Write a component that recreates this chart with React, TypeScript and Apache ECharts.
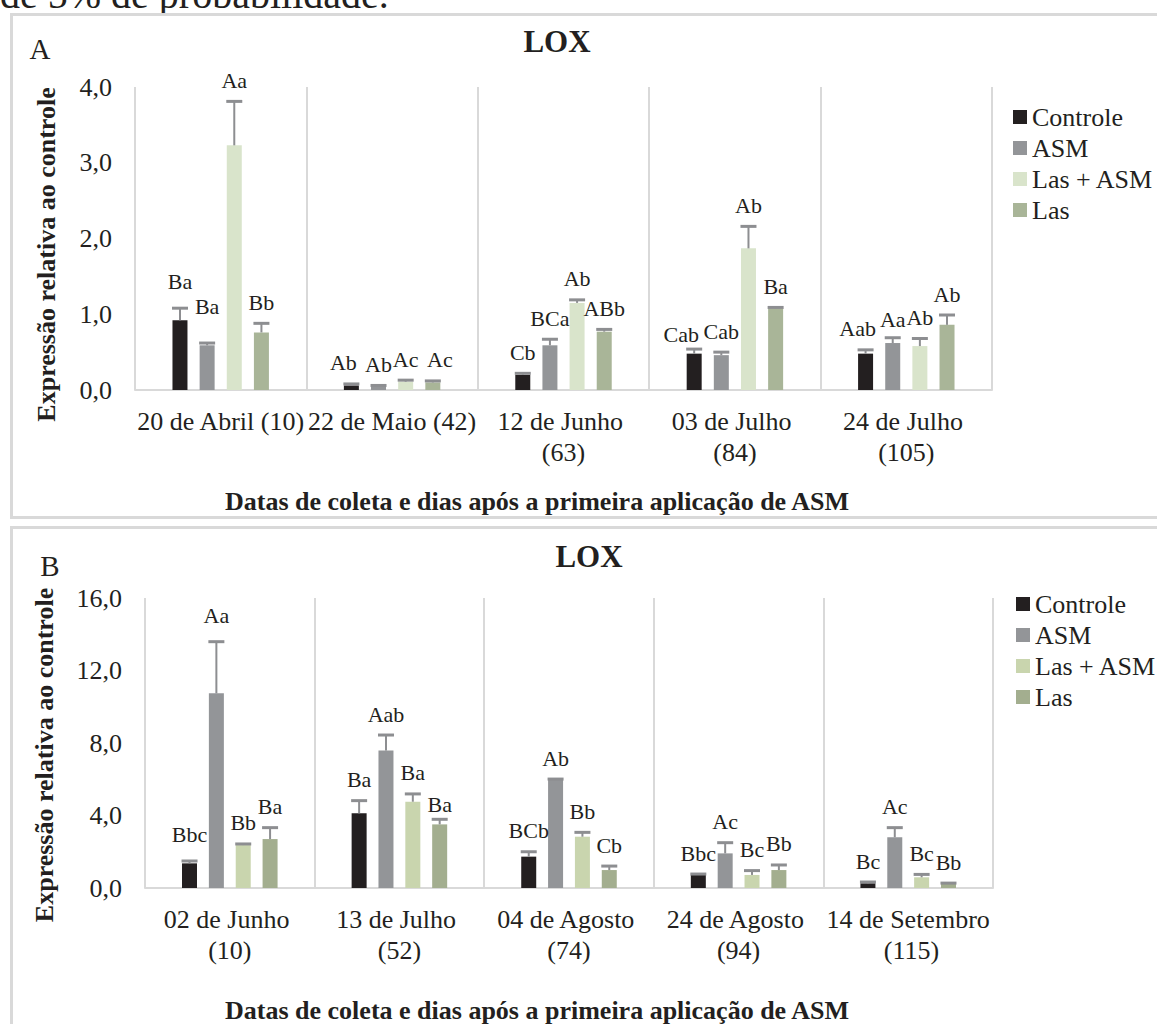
import React, { useEffect, useRef } from "react";
import * as echarts from "echarts";

// ---------- DATA ----------
const seriesNames = ["Controle", "ASM", "Las + ASM", "Las"];

const categoriesA = ["20 de Abril (10)", "22 de Maio (42)", "12 de Junho (63)", "03 de Julho (84)", "24 de Julho (105)"];
const categoriesB = ["02 de Junho (10)", "13 de Julho (52)", "04 de Agosto (74)", "24 de Agosto (94)", "14 de Setembro (115)"];

const yTicksA = [0, 1, 2, 3, 4];
const yTicksB = [0, 4, 8, 12, 16];

// Panel A values
const controleA = [0.92, 0.06, 0.2, 0.48, 0.48];
const asmA = [0.59, 0.05, 0.59, 0.46, 0.62];
const lasAsmA = [3.23, 0.11, 1.15, 1.87, 0.58];
const lasA = [0.76, 0.1, 0.77, 1.08, 0.86];
// Panel A errors
const controleErrA = [0.16, 0.02, 0.02, 0.06, 0.05];
const asmErrA = [0.03, 0.01, 0.08, 0.04, 0.07];
const lasAsmErrA = [0.58, 0.02, 0.04, 0.29, 0.1];
const lasErrA = [0.12, 0.02, 0.03, 0.01, 0.13];
// Panel A letters
const controleLabA = ["Ba", "Ab", "Cb", "Cab", "Aab"];
const asmLabA = ["Ba", "Ab", "BCa", "Cab", "Aa"];
const lasAsmLabA = ["Aa", "Ac", "Ab", "Ab", "Ab"];
const lasLabA = ["Bb", "Ac", "ABb", "Ba", "Ab"];

// Panel B values
const controleB = [1.36, 4.12, 1.73, 0.72, 0.26];
const asmB = [10.74, 7.58, 5.96, 1.91, 2.8];
const lasAsmB = [2.37, 4.76, 2.83, 0.72, 0.59];
const lasB = [2.7, 3.51, 0.99, 0.99, 0.22];
// Panel B errors
const controleErrB = [0.13, 0.7, 0.27, 0.05, 0.07];
const asmErrB = [2.85, 0.86, 0.05, 0.59, 0.53];
const lasAsmErrB = [0.06, 0.43, 0.24, 0.24, 0.16];
const lasErrB = [0.63, 0.28, 0.22, 0.28, 0.05];
// Panel B letters
const controleLabB = ["Bbc", "Ba", "BCb", "Bbc", "Bc"];
const asmLabB = ["Aa", "Aab", "Ab", "Ac", "Ac"];
const lasAsmLabB = ["Bb", "Ba", "Bb", "Bc", "Bc"];
const lasLabB = ["Ba", "Ba", "Cb", "Bb", "Bb"];

// ---------- STYLE ----------
const FONT = '"Liberation Serif", "Times New Roman", serif';
const TEXT = "#231f20";
const GRID_COL = "#d9d9d9";
const ERR_COL = "#8d8e91";
const colorsA = ["#231f20", "#939598", "#d9e4cb", "#a9b598"];
const colorsB = ["#231f20", "#939598", "#c9d5ae", "#a3ae8f"];
const BAR_W = 15;

// hand placement of a few letter labels (panel-series-category -> [dx, dy] px)
const labelNudge: Record<string, [number, number]> = {
  "0-0-0": [0, -6],
  "0-1-0": [0, -16],
  "0-0-1": [-8, 0],
  "0-3-1": [7, 0],
  "0-0-3": [-13, 6],
  "0-0-4": [-8, 0],
  "0-1-4": [0, 3],
  "1-0-0": [0, -5],
  "1-1-0": [0, -5],
  "1-3-1": [0, 6],
};

function fmtTick(v: number) {
  return v.toFixed(1).replace(".", ",");
}

function panelSeries(
  axisIdx: number,
  values: number[][],
  errs: number[][],
  labels: string[][],
  colors: string[],
  gapRatio: number
) {
  const out: any[] = [];
  const spacing = BAR_W * (1 + gapRatio);
  values.forEach((vals, k) => {
    out.push({
      type: "bar",
      name: seriesNames[k],
      xAxisIndex: axisIdx,
      yAxisIndex: axisIdx,
      data: vals,
      barWidth: BAR_W,
      barGap: Math.round(gapRatio * 100) + "%",
      itemStyle: { color: colors[k] },
      silent: true,
    });
  });
  values.forEach((vals, k) => {
    const err = errs[k];
    const labs = labels[k];
    out.push({
      type: "custom",
      name: seriesNames[k] + " err",
      xAxisIndex: axisIdx,
      yAxisIndex: axisIdx,
      coordinateSystem: "cartesian2d",
      encode: { x: 0, y: 1 },
      data: vals.map((v, i) => [i, v, err[i]]),
      z: 10,
      clip: false,
      silent: true,
      renderItem: (params: any, api: any) => {
        const cat = api.value(0);
        const v = api.value(1);
        const e = api.value(2);
        const p0 = api.coord([cat, v]);
        const p1 = api.coord([cat, v + e]);
        const x = p0[0] + (k - 1.5) * spacing;
        const nudge = labelNudge[`${axisIdx}-${k}-${params.dataIndex}`] || [0, 0];
        return {
          type: "group",
          children: [
            {
              type: "line",
              shape: { x1: x, y1: p0[1], x2: x, y2: p1[1] },
              style: { stroke: ERR_COL, lineWidth: 2 },
            },
            {
              type: "line",
              shape: { x1: x - 8, y1: p1[1], x2: x + 8, y2: p1[1] },
              style: { stroke: ERR_COL, lineWidth: 3 },
            },
            {
              type: "text",
              x: x + nudge[0],
              y: p1[1] - 21 + nudge[1],
              style: {
                text: labs[params.dataIndex],
                fontSize: 22,
                fontFamily: FONT,
                fill: TEXT,
                align: "center",
                verticalAlign: "middle",
              },
            },
          ],
        };
      },
    });
  });
  return out;
}

function xAxisCfg(idx: number, cats: string[], padRight: number, gap: number) {
  return {
    type: "category",
    gridIndex: idx,
    data: cats,
    name: "Datas de coleta e dias após a primeira aplicação de ASM",
    nameLocation: "middle",
    nameGap: gap,
    nameTextStyle: {
      fontFamily: FONT,
      fontSize: 26,
      fontWeight: "bold",
      color: TEXT,
      padding: [0, padRight, 0, 0],
    },
    axisLine: { show: true, lineStyle: { color: GRID_COL, width: 2 } },
    axisTick: { show: false },
    splitLine: { show: true, lineStyle: { color: GRID_COL, width: 2 } },
    axisLabel: {
      interval: 0,
      margin: 16,
      fontFamily: FONT,
      fontSize: 26,
      color: TEXT,
      lineHeight: 31,
      width: 169,
      overflow: "break",
    },
  };
}

function yAxisCfg(idx: number, ticks: number[], gap: number, padRight: number) {
  return {
    type: "value",
    gridIndex: idx,
    min: ticks[0],
    max: ticks[ticks.length - 1],
    interval: ticks[1] - ticks[0],
    name: "Expressão relativa ao controle",
    nameLocation: "middle",
    nameGap: gap,
    nameTextStyle: {
      fontFamily: FONT,
      fontSize: 26,
      fontWeight: "bold",
      color: TEXT,
      padding: [0, padRight, 0, 0],
    },
    axisLine: { show: false },
    axisTick: { show: false },
    splitLine: { show: false },
    axisLabel: {
      margin: 23,
      fontFamily: FONT,
      fontSize: 26,
      color: TEXT,
      formatter: (v: number) => fmtTick(v),
    },
  };
}

function legendCfg(top: number, left: number, colors: string[]) {
  return {
    orient: "vertical",
    left,
    top,
    icon: "rect",
    itemWidth: 14,
    itemHeight: 14,
    itemGap: 5,
    selectedMode: false,
    textStyle: { fontFamily: FONT, fontSize: 26, color: TEXT, lineHeight: 26 },
    data: seriesNames.map((n, k) => ({ name: n, itemStyle: { color: colors[k] } })),
  };
}

export default function App() {
  const ref = useRef<HTMLDivElement>(null);
  useEffect(() => {
    if (!ref.current) return;
    const chart = echarts.init(ref.current, undefined, { renderer: "svg" });
    const option: any = {
      animation: false,
      backgroundColor: "#ffffff",
      graphic: [
        {
          type: "text",
          x: 0,
          y: -6,
          style: { text: "de 5% de probabilidade.", fontFamily: FONT, fontSize: 40, fill: TEXT, verticalAlign: "middle" },
        },
        {
          type: "rect",
          shape: { x: 0, y: 13, width: 1157, height: 4 },
          style: { fill: "#ffffff" },
        },
        {
          type: "rect",
          shape: { x: 11.5, y: 14.5, width: 1160, height: 503 },
          style: { fill: "none", stroke: GRID_COL, lineWidth: 3 },
        },
        {
          type: "rect",
          shape: { x: 11.5, y: 527.5, width: 1160, height: 520 },
          style: { fill: "none", stroke: GRID_COL, lineWidth: 3 },
        },
        {
          type: "text",
          x: 557,
          y: 41,
          style: { text: "LOX", fontFamily: FONT, fontSize: 31, fontWeight: "bold", fill: TEXT, align: "center", verticalAlign: "middle" },
        },
        {
          type: "text",
          x: 40,
          y: 49,
          style: { text: "A", fontFamily: FONT, fontSize: 29, fill: TEXT, align: "center", verticalAlign: "middle" },
        },
        {
          type: "text",
          x: 589,
          y: 556,
          style: { text: "LOX", fontFamily: FONT, fontSize: 31, fontWeight: "bold", fill: TEXT, align: "center", verticalAlign: "middle" },
        },
        {
          type: "text",
          x: 50,
          y: 566,
          style: { text: "B", fontFamily: FONT, fontSize: 29, fill: TEXT, align: "center", verticalAlign: "middle" },
        },
      ],
      grid: [
        { left: 135, top: 87, width: 857, height: 303, containLabel: false },
        { left: 145, top: 598, width: 848, height: 290, containLabel: false },
      ],
      xAxis: [xAxisCfg(0, categoriesA, 53, 98), xAxisCfg(1, categoriesB, 64, 109)],
      yAxis: [yAxisCfg(0, yTicksA, 76, 32), yAxisCfg(1, yTicksB, 88, 24)],
      legend: [legendCfg(99, 1008, colorsA), legendCfg(586, 1011, colorsB)],
      series: [
        ...panelSeries(
          0,
          [controleA, asmA, lasAsmA, lasA],
          [controleErrA, asmErrA, lasAsmErrA, lasErrA],
          [controleLabA, asmLabA, lasAsmLabA, lasLabA],
          colorsA,
          0.81
        ),
        ...panelSeries(
          1,
          [controleB, asmB, lasAsmB, lasB],
          [controleErrB, asmErrB, lasAsmErrB, lasErrB],
          [controleLabB, asmLabB, lasAsmLabB, lasLabB],
          colorsB,
          0.79
        ),
      ],
    };
    chart.setOption(option);
    return () => chart.dispose();
  }, []);
  return (
    <div
      ref={ref}
      style={{ position: "absolute", left: 0, top: 0, width: 1157, height: 1024, background: "#fff" }}
    />
  );
}
